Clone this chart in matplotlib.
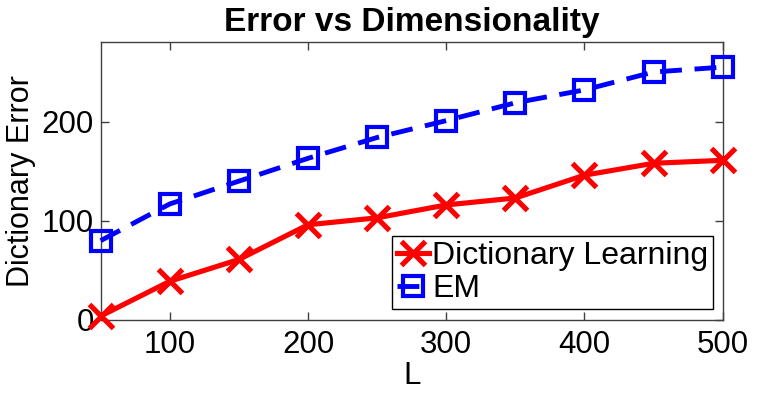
import matplotlib.pyplot as plt
import numpy as np

plt.rcParams['font.family'] = ['Liberation Sans', 'DejaVu Sans']

L = [50, 100, 150, 200, 250, 300, 350, 400, 450, 500]
dict_learning = [4, 39, 61, 96, 103, 116, 123, 146, 158, 161]
em = [80, 117, 140, 163, 184, 201, 219, 232, 250, 255]

fig = plt.figure(figsize=(7.61, 3.97), dpi=100)
ax = fig.add_axes([0.1323, 0.194, 0.8174, 0.6995])

ax.plot(L, dict_learning, color='#ff0000', lw=3.7, marker='x', ms=17, mew=3.7,
        label='Dictionary Learning', clip_on=False, zorder=3)
ax.plot(L, em, color='#0000ff', lw=3.5, ls='--', dashes=(4.5, 2.6), marker='s',
        ms=14, mew=3, mfc='none', label='EM', clip_on=False, zorder=3)

ax.set_xlim(50, 500)
ax.set_ylim(0, 280)
ax.set_xticks([100, 200, 300, 400, 500])
ax.set_yticks([0, 100, 200])
ax.tick_params(direction='in', length=6, width=1, labelsize=22.5, top=True, right=True,
               color='#404040')
ax.tick_params(axis='x', pad=7)
ax.tick_params(axis='y', pad=5)
for s in ax.spines.values():
    s.set_color('#404040')
    s.set_linewidth(1)

ax.set_title('Error vs Dimensionality', fontsize=24, fontweight='bold', pad=8)
ax.set_xlabel('L', fontsize=22.5, labelpad=1)
ax.set_ylabel('Dictionary Error', fontsize=22, labelpad=4)

leg = ax.legend(loc='lower right', bbox_to_anchor=(0.9844, 0.0396), fontsize=23,
                frameon=True, fancybox=False, framealpha=1, edgecolor='black',
                handlelength=1.0, handletextpad=0.1, borderpad=0.15,
                labelspacing=0.1, borderaxespad=0)
leg.get_frame().set_linewidth(1)

fig.savefig('out.png', dpi=100)
